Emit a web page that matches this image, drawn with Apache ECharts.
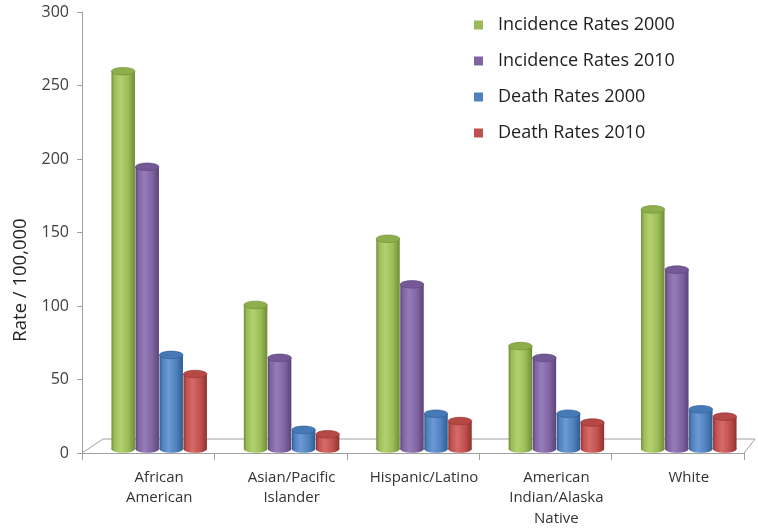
<!DOCTYPE html>
<html>
<head>
<meta charset="utf-8">
<script src="https://cdn.jsdelivr.net/npm/echarts/dist/echarts.min.js"></script>
<style>
  html, body { margin: 0; padding: 0; background: #ffffff; }
  #chart { width: 758px; height: 532px; }
</style>
</head>
<body>
<div id="chart"></div>
<script>
// Categories (race / ethnicity groups)
const categories = ['African\nAmerican', 'Asian/Pacific\nIslander', 'Hispanic/Latino', 'American\nIndian/Alaska\nNative', 'White'];

// Series values, rate per 100,000
const seriesNames = ['Incidence Rates 2000', 'Incidence Rates 2010', 'Death Rates 2000', 'Death Rates 2010'];
const incidence2000 = [257, 98, 143, 70, 163];
const incidence2010 = [192, 62, 112, 62, 122];
const death2000 = [64, 13, 24, 24, 27];
const death2010 = [51, 10, 19, 18, 22];

// Value axis ticks
const yMin = 0, yMax = 300, yInterval = 50;

const seriesValues = [incidence2000, incidence2010, death2000, death2010];

// Cylinder shading per series: [base, light, dark, top]
const palette = [
  ['#9bbb59', '#b3d170', '#6f8c34', '#8eae4c'],
  ['#8064a2', '#977cba', '#5b4479', '#745996'],
  ['#4f81bd', '#6b9ad6', '#2f5d92', '#467ab6'],
  ['#c0504d', '#d56b67', '#8f3230', '#b64845']
];

const BAR_W = 23.5;
const BAR_STEP = 24;
const RY = 3.8;

function cylinderRenderer(idx) {
  const c = palette[idx];
  return function (params, api) {
    const cat = api.value(0);
    const val = api.value(1);
    const top = api.coord([cat, val]);
    const base = api.coord([cat, 0]);
    const cx = top[0] + (idx - 1.5) * BAR_STEP;
    const x0 = cx - BAR_W / 2;
    const body = new echarts.graphic.LinearGradient(0, 0, 1, 0, [
      { offset: 0, color: c[2] },
      { offset: 0.12, color: c[0] },
      { offset: 0.38, color: c[1] },
      { offset: 0.72, color: c[0] },
      { offset: 1, color: c[2] }
    ]);
    return {
      type: 'group',
      children: [
        { type: 'ellipse', shape: { cx: cx, cy: base[1], rx: BAR_W / 2, ry: RY }, style: { fill: body } },
        { type: 'rect', shape: { x: x0, y: top[1], width: BAR_W, height: base[1] - top[1] }, style: { fill: body } },
        { type: 'ellipse', shape: { cx: cx, cy: top[1], rx: BAR_W / 2, ry: RY },
          style: { fill: c[3], stroke: c[2], lineWidth: 0.6 } }
      ]
    };
  };
}

const chart = echarts.init(document.getElementById('chart'), null, { renderer: 'canvas' });

// Axis frame and bar plane
const AX = { left: 82, top: 12, width: 662, height: 441 };
const BARS = { left: 93, top: 8, width: 662, height: 441 };
const axisGrey = '#a0a0a0';
const fontFamily = '"Open Sans", "Noto Sans", sans-serif';

chart.setOption({
  animation: false,
  backgroundColor: '#ffffff',
  textStyle: { fontFamily: fontFamily },
  legend: {
    orient: 'vertical',
    left: 469,
    top: 9,
    itemWidth: 9,
    itemHeight: 9,
    itemGap: 14,
    icon: 'rect',
    data: seriesNames,
    textStyle: { fontSize: 18, color: '#1f1f1f', lineHeight: 22, padding: [0, 0, 0, 10], fontFamily: fontFamily }
  },
  grid: [
    { left: AX.left, top: AX.top, width: AX.width, height: AX.height },
    { left: BARS.left, top: BARS.top, width: BARS.width, height: BARS.height }
  ],
  xAxis: [
    {
      gridIndex: 0, type: 'category', data: categories,
      axisLine: { lineStyle: { color: axisGrey, width: 1 } },
      axisTick: { show: true, length: 7, lineStyle: { color: axisGrey } },
      axisLabel: { show: false }
    },
    {
      gridIndex: 1, type: 'category', data: categories,
      axisLine: { show: false }, axisTick: { show: false },
      axisLabel: { margin: 18, fontSize: 15, lineHeight: 20.5, color: '#333333', interval: 0, fontFamily: fontFamily }
    }
  ],
  yAxis: [
    {
      gridIndex: 0, type: 'value', min: yMin, max: yMax, interval: yInterval,
      axisLine: { show: true, lineStyle: { color: axisGrey } },
      axisTick: { show: true, length: 5, lineStyle: { color: axisGrey } },
      axisLabel: { fontSize: 16, color: '#404040', margin: 13, fontFamily: fontFamily },
      splitLine: { show: false }
    },
    { gridIndex: 1, type: 'value', min: yMin, max: yMax, show: false }
  ],
  graphic: [
    {
      type: 'text', x: 21, y: 280, rotation: Math.PI / 2,
      style: { text: 'Rate / 100,000', fontSize: 18.5, fill: '#262626', align: 'center', verticalAlign: 'middle', fontFamily: fontFamily }
    },
    {
      // floor of the plot area
      type: 'polyline', z: 0,
      shape: { points: [[AX.left, AX.top + AX.height], [AX.left + 21, AX.top + AX.height - 14], [AX.left + AX.width + 11, AX.top + AX.height - 14], [AX.left + AX.width, AX.top + AX.height]] },
      style: { stroke: axisGrey, lineWidth: 1, fill: null }
    }
  ],
  series: seriesNames.map(function (name, i) {
    return {
      name: name,
      type: 'custom',
      xAxisIndex: 1,
      yAxisIndex: 1,
      itemStyle: { color: palette[i][0] },
      renderItem: cylinderRenderer(i),
      encode: { x: 0, y: 1 },
      data: seriesValues[i].map(function (v, k) { return [k, v]; }),
      z: 3
    };
  })
});
</script>
</body>
</html>
